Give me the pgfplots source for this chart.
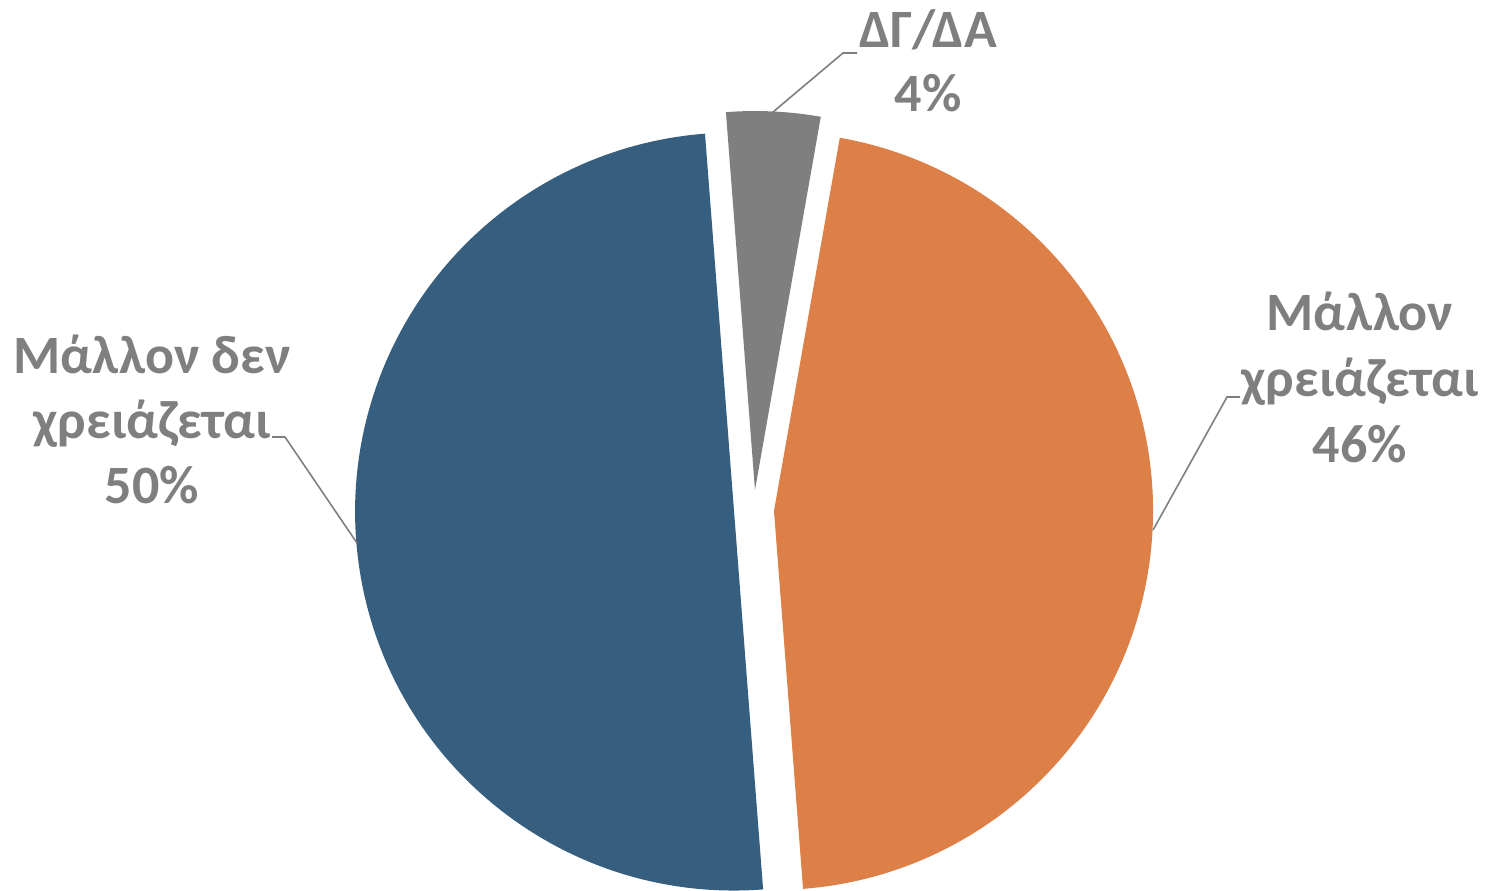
\documentclass[border=0pt]{standalone}
\usepackage{pgfplots}
\pgfplotsset{compat=1.18}
\usepackage{fontspec}
\setmainfont{Carlito}
\usetikzlibrary{calc}
\definecolor{blueC}{HTML}{365E7E}
\definecolor{orangeC}{HTML}{DD8047}
\definecolor{grayC}{HTML}{7F7F7F}
\definecolor{txtC}{HTML}{7F7F7F}
% data (percent)
\def\vOrange{46}
\def\vBlue{50}
\def\vGray{4}
\def\firstangle{80}
\pgfmathsetmacro\aA{\firstangle}
\pgfmathsetmacro\aB{\aA-3.6*\vOrange}
\pgfmathsetmacro\aC{\aB-3.6*\vBlue}
\pgfmathsetmacro\aD{\aC-3.6*\vGray}
\pgfmathsetmacro\mA{(\aA+\aB)/2}
\pgfmathsetmacro\mB{(\aB+\aC)/2}
\pgfmathsetmacro\mC{(\aC+\aD)/2}
\begin{document}
\begin{tikzpicture}
\useasboundingbox (0,0) rectangle (743pt,445pt);
\begin{axis}[
  at={(0,0)}, anchor=south west,
  scale only axis, width=743pt, height=445pt,
  xmin=0, xmax=1486, ymin=0, ymax=890,
  hide axis, clip=false,
]
\def\R{189.5pt}
\def\E{10pt}
\fill[orangeC] ($(axis cs:754,380)+(\mA:\E)$) -- ++(\aA:\R) arc[start angle=\aA, end angle=\aB, radius=\R] -- cycle;
\fill[blueC] ($(axis cs:754,380)+(\mB:\E)$) -- ++(\aB:\R) arc[start angle=\aB, end angle=\aC, radius=\R] -- cycle;
\fill[grayC] ($(axis cs:754,380)+(\mC:\E)$) -- ++(\aC:\R) arc[start angle=\aC, end angle=\aD, radius=\R] -- cycle;
% leader lines
\draw[txtC, line width=0.8pt] (axis cs:773,778) -- (axis cs:843,837) -- (axis cs:857,837);
\draw[txtC, line width=0.8pt] (axis cs:1153,360) -- (axis cs:1227,493) -- (axis cs:1240,493);
\draw[txtC, line width=0.8pt] (axis cs:357,347) -- (axis cs:285,453) -- (axis cs:272,453);
% labels
\tikzset{lbl/.style={anchor=base, inner sep=0pt, text=txtC, font=\fontsize{27}{33}\selectfont\bfseries}}
\node[lbl] at (axis cs:928,842) {ΔΓ/ΔΑ};
\node[lbl] at (axis cs:928,778) {4\%};
\node[lbl] at (axis cs:1360,560) {Μάλλον};
\node[lbl] at (axis cs:1360,494) {χρειάζεται};
\node[lbl] at (axis cs:1360,428) {46\%};
\node[lbl] at (axis cs:152,517) {Μάλλον δεν};
\node[lbl] at (axis cs:152,452) {χρειάζεται};
\node[lbl] at (axis cs:152,387) {50\%};
\end{axis}
\end{tikzpicture}
\end{document}
